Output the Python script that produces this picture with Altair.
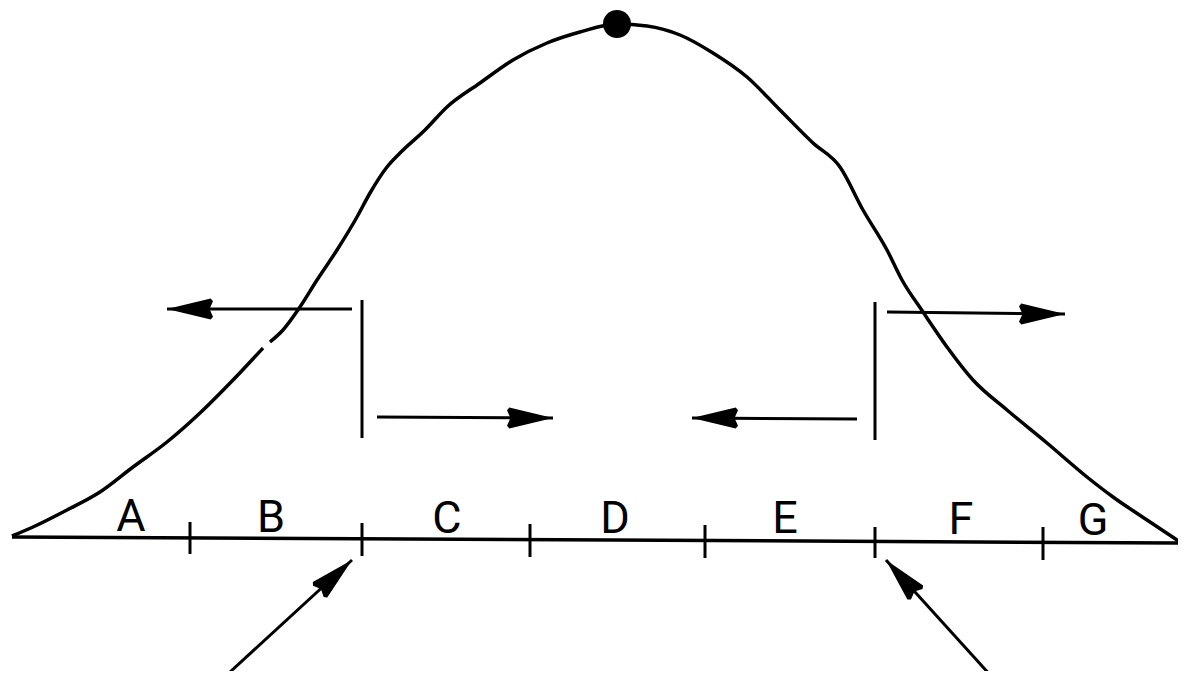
import altair as alt
import pandas as pd

# Bell curve (pixel-like units, y grows downward)
curve_x = [12, 33, 67, 100, 133, 167, 200, 233, 263,
           270, 283, 300, 317, 337, 357, 370, 387, 400, 425, 447, 480, 513, 547, 580, 617,
           647, 680, 713, 747, 780, 813, 840, 863, 887, 902, 923, 947, 973, 1007,
           1047, 1087, 1113, 1147, 1180]
curve_y = [536, 527, 510, 492, 467, 442, 413, 380, 348,
           342, 330, 307, 280, 250, 217, 193, 167, 153, 130, 107, 83, 60, 43, 32, 24,
           26, 35, 53, 77, 110, 143, 167, 210, 250, 280, 312, 347, 380, 410,
           443, 477, 497, 520, 542]
curve_seg = [0] * 9 + [1] * 35

# Baseline
base_x = [12]
base_x2 = [1180]
base_y = [537]
base_y2 = [543]

# Tick marks on the baseline
tick_x = [190, 362, 530, 705, 875, 1043]
tick_top = [522, 523, 524, 525, 527, 527]
tick_bot = [554, 556, 557, 558, 558, 560]

# Segment labels
labels = ["A", "B", "C", "D", "E", "F", "G"]
label_x = [131, 271, 447, 615, 785, 961, 1093]
label_y = [531, 532, 533, 533, 533, 534, 535]

# Vertical bars
bar_x = [362, 875]
bar_top = [300, 302]
bar_bot = [438, 440]

# Arrows: tail -> tip, heading angle (degrees clockwise from up)
arrow_x1 = [352, 377, 887, 857, 230, 992]
arrow_y1 = [309, 417, 312, 419, 672, 677]
arrow_x2 = [167, 553, 1065, 692, 352, 886]
arrow_y2 = [309, 418, 314, 418, 560, 560]
arrow_ang = [270, 90, 90, 270, 47, 318]

# Peak marker
peak_x = [617]
peak_y = [24]

X = alt.Scale(domain=[8, 1178])
Y = alt.Scale(domain=[8, 671], reverse=True)

curve_df = pd.DataFrame({"x": curve_x, "y": curve_y, "seg": curve_seg,
                         "i": list(range(len(curve_x)))})
base_df = pd.DataFrame({"x": base_x, "x2": base_x2, "y": base_y, "y2": base_y2})
tick_df = pd.DataFrame({"x": tick_x, "y": tick_top, "y2": tick_bot})
label_df = pd.DataFrame({"t": labels, "x": label_x, "y": label_y})
bar_df = pd.DataFrame({"x": bar_x, "y": bar_top, "y2": bar_bot})
arrow_df = pd.DataFrame({"x": arrow_x1, "y": arrow_y1, "x2": arrow_x2,
                         "y2": arrow_y2, "ang": arrow_ang})
peak_df = pd.DataFrame({"x": peak_x, "y": peak_y})

ax = dict(axis=None)
SW = 3.5

curve = alt.Chart(curve_df).mark_line(color="black", strokeWidth=SW,
                                      interpolate="monotone").encode(
    x=alt.X("x:Q", scale=X, **ax),
    y=alt.Y("y:Q", scale=Y, **ax),
    detail="seg:N",
    order="i:Q",
)

baseline = alt.Chart(base_df).mark_rule(color="black", strokeWidth=SW).encode(
    x=alt.X("x:Q", scale=X, **ax), x2="x2:Q",
    y=alt.Y("y:Q", scale=Y, **ax), y2="y2:Q",
)

ticks = alt.Chart(tick_df).mark_rule(color="black", strokeWidth=3).encode(
    x=alt.X("x:Q", scale=X, **ax),
    y=alt.Y("y:Q", scale=Y, **ax), y2="y2:Q",
)

bars = alt.Chart(bar_df).mark_rule(color="black", strokeWidth=3).encode(
    x=alt.X("x:Q", scale=X, **ax),
    y=alt.Y("y:Q", scale=Y, **ax), y2="y2:Q",
)

shafts = alt.Chart(arrow_df).mark_rule(color="black", strokeWidth=3).encode(
    x=alt.X("x:Q", scale=X, **ax), x2="x2:Q",
    y=alt.Y("y:Q", scale=Y, **ax), y2="y2:Q",
)

head_shape = "M0,0 L0.46,1.9 L0.34,2 L0,1.85 L-0.34,2 L-0.46,1.9 Z"
heads = alt.Chart(arrow_df).mark_point(
    shape=head_shape, filled=True, color="black", opacity=1, size=2116,
    strokeWidth=1,
).encode(
    x=alt.X("x2:Q", scale=X, **ax),
    y=alt.Y("y2:Q", scale=Y, **ax),
    angle=alt.Angle("ang:Q", scale=None),
)

texts = alt.Chart(label_df).mark_text(
    font="Roboto", fontSize=45, fontWeight=400, color="black",
    baseline="alphabetic", align="center",
).encode(
    x=alt.X("x:Q", scale=X, **ax),
    y=alt.Y("y:Q", scale=Y, **ax),
    text="t:N",
)

peak = alt.Chart(peak_df).mark_point(
    shape="circle", filled=True, color="black", opacity=1, size=784,
).encode(
    x=alt.X("x:Q", scale=X, **ax),
    y=alt.Y("y:Q", scale=Y, **ax),
)

chart = alt.layer(curve, baseline, ticks, bars, shafts, heads, texts, peak).properties(
    width=1170, height=663,
    autosize=alt.AutoSizeParams(type="none"),
    padding=0,
    background="white",
).configure_view(stroke=None)

chart.save("out.html", embed_options={"renderer": "svg", "actions": False})
